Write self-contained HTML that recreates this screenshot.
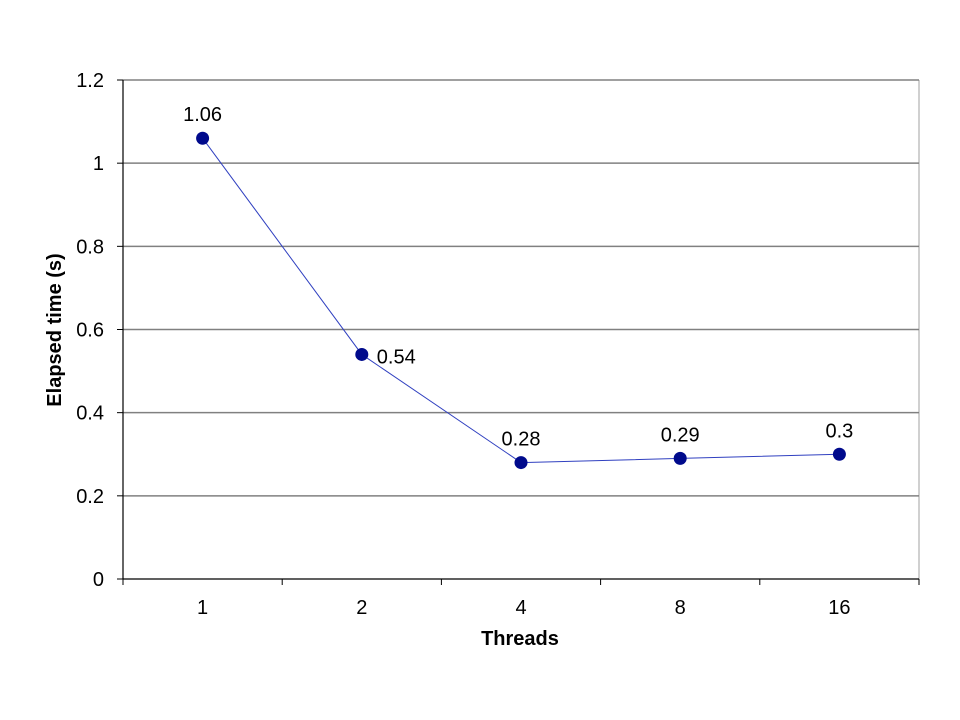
<!DOCTYPE html>
<html><head><meta charset="utf-8"><style>
body{margin:0;background:#fff}
svg{display:block;font-family:"Liberation Sans",Arial,sans-serif}
</style></head><body>
<svg id="chart" width="960" height="720">
<g id="grid"></g><g id="axes"></g><g id="series"></g>
<text x="520" y="645" text-anchor="middle" font-size="20" font-weight="bold">Threads</text>
<text transform="translate(61,330) rotate(-90)" text-anchor="middle" font-size="20" font-weight="bold">Elapsed time (s)</text>
</svg>
<script>
const categories = ["1","2","4","8","16"];
const values = [1.06,0.54,0.28,0.29,0.3];
const labels = ["1.06","0.54","0.28","0.29","0.3"];
const yTicks = [0,0.2,0.4,0.6,0.8,1,1.2];
const yTickLabels = ["0","0.2","0.4","0.6","0.8","1","1.2"];

const NS="http://www.w3.org/2000/svg";
const L=123,R=919,T=80,B=579,yMax=1.2;
const y=v=>B-(v/yMax)*(B-T);
const bw=(R-L)/categories.length;
const x=i=>L+bw*(i+0.5);
function mk(tag,attrs,parent){const e=document.createElementNS(NS,tag);for(const k in attrs)e.setAttribute(k,attrs[k]);parent.appendChild(e);return e;}
const grid=document.getElementById('grid'),axes=document.getElementById('axes'),series=document.getElementById('series');

mk('line',{x1:R,y1:T,x2:R,y2:B,stroke:'#c0c0c0','stroke-width':1.5},grid);
yTicks.forEach((t,i)=>{
  if(t>0){const g=mk('line',{x1:L,y1:y(t),x2:R,y2:y(t),stroke:'#808080','stroke-width':1.5},grid);
  
  }
  mk('line',{x1:L-6,y1:y(t),x2:L,y2:y(t),stroke:'#000'},axes);
  const tx=mk('text',{x:L-19,y:y(t)+7,'text-anchor':'end','font-size':20},axes);
  tx.textContent=yTickLabels[i];
  
  
});
mk('line',{x1:L,y1:T,x2:L,y2:B,stroke:'#000','stroke-width':1.2},axes);
mk('line',{x1:L,y1:B,x2:R,y2:B,stroke:'#000','stroke-width':1.2},axes);
for(let i=0;i<=categories.length;i++){mk('line',{x1:L+bw*i,y1:B,x2:L+bw*i,y2:B+6,stroke:'#000'},axes);}
categories.forEach((c,i)=>{
  const tx=mk('text',{x:x(i),y:B+35,'text-anchor':'middle','font-size':20},axes);
  tx.textContent=c;
  
  
});
const pts=values.map((v,i)=>x(i)+','+y(v)).join(' ');
const pl=mk('polyline',{points:pts,fill:'none',stroke:'#3040c0','stroke-width':1},series);


values.forEach((v,i)=>{
  const c=mk('circle',{cx:x(i),cy:y(v),r:6.5,fill:'#000a8c'},series);
  
  
  const right=(i===1);
  const tx=mk('text',{x:right?x(i)+15:x(i),y:right?y(v)+9:y(v)-17,'text-anchor':right?'start':'middle','font-size':20},series);
  tx.textContent=labels[i];
  
  
});
</script>
</body></html>
